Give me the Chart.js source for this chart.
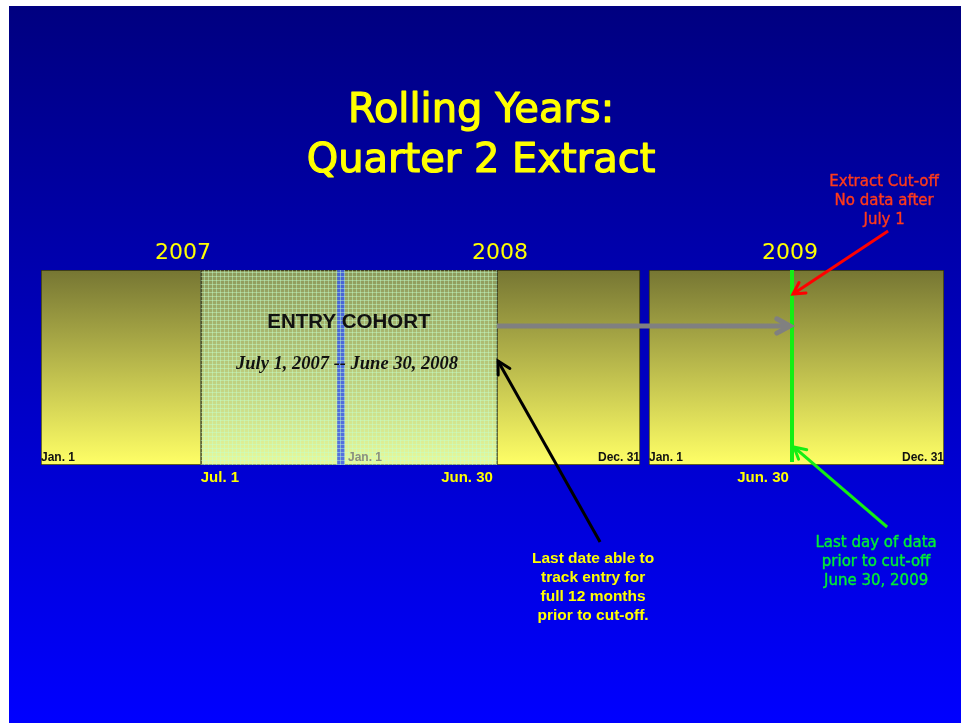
<!DOCTYPE html>
<html>
<head>
<meta charset="utf-8">
<script src="https://cdn.jsdelivr.net/npm/chart.js@4.4.1/dist/chart.umd.min.js"></script>
<style>
  html, body { margin: 0; padding: 0; background: #fff; }
  #wrap { width: 961px; height: 723px; }
</style>
</head>
<body>
<div id="wrap"><canvas id="timeline" width="961" height="723"></canvas></div>
<script>
// x = months counted from Jan 1, 2007
// yv = 0 at the bottom of the year boxes, 10 at the top
const spanNames = ['2007 Jan-Jun', 'Entry cohort', '2008 Jul-Dec', '2009'];
const spanStart = [0, 6.41, 18.27, 24.36];
const spanEnd = [6.41, 18.27, 24.0, 36.18];
const newYearMark = [11.88, 12.16];  // Jan 1, 2008 inside the cohort
const cutoffMonth = 30.09;           // Jun 30, 2009
const cutoffExtent = [0.15, 10];

const yearLabels = ['2007', '2008', '2009'];
const yearLabelX = [5.69, 18.39, 30.01];
const dateLabels = ['Jul. 1', 'Jun. 30', 'Jun. 30'];
const dateLabelX = [7.17, 17.07, 28.93];
const edgeLabels = ['Jan. 1', 'Dec. 31', 'Jan. 1', 'Dec. 31'];
const edgeLabelX = [0, 24.0, 24.36, 36.18];

// arrows: [tail, head] as [month, yv]
const carryArrow = [[18.27, 7.13], [30.01, 7.13]];
const cutoffArrow = [[33.94, 12.0], [30.13, 8.77]];
const lastDayArrow = [[33.9, -3.18], [30.17, 0.92]];
const lastEntryArrow = [[22.4, -3.95], [18.31, 5.33]];

const titleLines = ['Rolling Years:', 'Quarter 2 Extract'];
const cutoffNote = ['Extract Cut-off', 'No data after', 'July 1'];
const lastDayNote = ['Last day of data', 'prior to cut-off', 'June 30, 2009'];
const lastEntryNote = ['Last date able to', 'track entry for', 'full 12 months', 'prior to cut-off.'];

const ctx = document.getElementById('timeline').getContext('2d');

// small grid used for the hatched cohort block
const gridTile = document.createElement('canvas');
gridTile.width = 4; gridTile.height = 4;
const gt = gridTile.getContext('2d');
gt.fillStyle = 'rgba(195,255,205,0.45)';
gt.fillRect(0, 0, 4, 1);
gt.fillRect(0, 0, 1, 4);
const gridPattern = ctx.createPattern(gridTile, 'repeat');

function vGradient(top, bottom) {
    return (c) => {
        const a = c.chart.chartArea;
        if (!a) return bottom;
        const g = c.chart.ctx.createLinearGradient(0, a.top, 0, a.bottom);
        g.addColorStop(0, top);
        g.addColorStop(1, bottom);
        return g;
    };
}

const barCommon = {
    type: 'bar',
    indexAxis: 'y',
    xAxisID: 'x',
    yAxisID: 'y',
    grouped: false,
    categoryPercentage: 1,
    barPercentage: 1,
    borderSkipped: false,
};

const spanSets = spanNames.map((name, i) => ({
    ...barCommon,
    label: name,
    data: [[spanStart[i], spanEnd[i]]],
    backgroundColor: i === 1 ? vGradient('#8c985a', '#e6fa9c') : vGradient('#767633', '#ffff66'),
    borderColor: '#2b2b12',
    borderWidth: 1,
    order: 6,
}));

const overlaySets = [
    { ...barCommon, label: 'Jan 1, 2008', data: [newYearMark], backgroundColor: 'rgba(60,90,235,0.85)', borderWidth: 0, order: 5 },
    { ...barCommon, label: 'grid', data: [[spanStart[1], spanEnd[1]]], backgroundColor: gridPattern, borderWidth: 0, order: 4 },
    {
        type: 'line', label: 'Cut-off', xAxisID: 'x', yAxisID: 'yv',
        data: cutoffExtent.map(v => ({ x: cutoffMonth, y: v })),
        borderColor: '#14ee14', borderWidth: 4, pointRadius: 0, order: 1,
    },
];

function drawArrow(c, chart, pts, color, width, head) {
    const x = chart.scales.x, y = chart.scales.yv;
    const x0 = x.getPixelForValue(pts[0][0]), y0 = y.getPixelForValue(pts[0][1]);
    const x1 = x.getPixelForValue(pts[1][0]), y1 = y.getPixelForValue(pts[1][1]);
    const ang = Math.atan2(y1 - y0, x1 - x0);
    c.save();
    c.strokeStyle = color;
    c.lineWidth = width;
    c.lineCap = 'butt';
    c.beginPath();
    c.moveTo(x0, y0);
    c.lineTo(x1, y1);
    c.stroke();
    c.lineCap = 'round';
    c.lineJoin = 'miter';
    c.beginPath();
    c.moveTo(x1 - head * Math.cos(ang - 0.5), y1 - head * Math.sin(ang - 0.5));
    c.lineTo(x1, y1);
    c.lineTo(x1 - head * Math.cos(ang + 0.5), y1 - head * Math.sin(ang + 0.5));
    c.stroke();
    c.restore();
}

function drawLines(c, chart, lines, xv, yv, step, font, color, align, thicken) {
    const x = chart.scales.x.getPixelForValue(xv);
    c.save();
    c.font = font;
    c.fillStyle = color;
    c.strokeStyle = color;
    c.lineWidth = thicken || 0;
    c.lineJoin = 'round';
    c.textAlign = align || 'center';
    c.textBaseline = 'middle';
    lines.forEach((t, i) => {
        const y = chart.scales.yv.getPixelForValue(yv - i * step);
        c.fillText(t, x, y);
        if (thicken) c.strokeText(t, x, y);
    });
    c.restore();
}

const slidePlugin = {
    id: 'slide',
    beforeDraw(chart) {
        const c = chart.ctx;
        c.save();
        c.fillStyle = '#ffffff';
        c.fillRect(0, 0, chart.width, chart.height);
        const g = c.createLinearGradient(0, 6, 0, chart.height);
        g.addColorStop(0, '#000080');
        g.addColorStop(1, '#0000ff');
        c.fillStyle = g;
        c.fillRect(9, 6, chart.width - 9, chart.height - 6);
        c.restore();
    },
    afterDraw(chart) {
        const c = chart.ctx;
        drawLines(c, chart, titleLines, 17.63, 18.1, 2.56, '40px "DejaVu Sans"', '#ffff00', 'center', 1.2);
        yearLabels.forEach((t, i) => drawLines(c, chart, [t], yearLabelX[i], 10.87, 0, '22px "DejaVu Sans"', '#ffff00'));
        dateLabels.forEach((t, i) => drawLines(c, chart, [t], dateLabelX[i], -0.67, 0, 'bold 15px "Liberation Sans"', '#ffff00'));
        edgeLabels.forEach((t, i) => drawLines(c, chart, [t], edgeLabelX[i], 0.4, 0, 'bold 12px "Liberation Sans"', '#111111', i % 2 ? 'right' : 'left'));
        drawLines(c, chart, ['Jan. 1'], 12.3, 0.4, 0, 'bold 12px "Liberation Sans"', '#8a8f80', 'left');
        drawLines(c, chart, ['ENTRY COHORT'], 12.34, 7.33, 0, 'bold 20.5px "Liberation Sans"', '#111111');
        drawLines(c, chart, ['July 1, 2007 -- June 30, 2008'], 12.26, 5.18, 0, 'italic bold 18.5px "Liberation Serif"', '#111111');

        drawArrow(c, chart, carryArrow, '#808080', 5, 15);
        drawArrow(c, chart, cutoffArrow, '#ff0000', 3, 13);
        drawArrow(c, chart, lastDayArrow, '#14ee14', 3, 13);
        drawArrow(c, chart, lastEntryArrow, '#000000', 3, 14);

        drawLines(c, chart, cutoffNote, 33.78, 14.51, 0.975, '15px "DejaVu Sans"', '#ff3a1a', 'center', 0.4);
        drawLines(c, chart, lastDayNote, 33.46, -4.0, 0.975, '15px "DejaVu Sans"', '#00ee33', 'center', 0.4);
        drawLines(c, chart, lastEntryNote, 22.12, -4.82, 0.975, 'bold 15.5px "Liberation Sans"', '#ffff00');
    },
};

new Chart(ctx, {
    type: 'bar',
    data: {
        labels: ['timeline'],
        datasets: [...spanSets, ...overlaySets],
    },
    options: {
        responsive: false,
        animation: false,
        layout: { padding: { left: 41, right: 17, top: 270, bottom: 258 } },
        plugins: {
            legend: { display: false },
            tooltip: { enabled: false },
            title: { display: false },
        },
        scales: {
            x: { type: 'linear', min: 0, max: 36.18, offset: false, grace: 0, display: false },
            y: { type: 'category', offset: true, display: false },
            yv: { type: 'linear', axis: 'y', min: 0, max: 10, offset: false, grace: 0, display: false },
        },
    },
    plugins: [slidePlugin],
});
</script>
</body>
</html>
